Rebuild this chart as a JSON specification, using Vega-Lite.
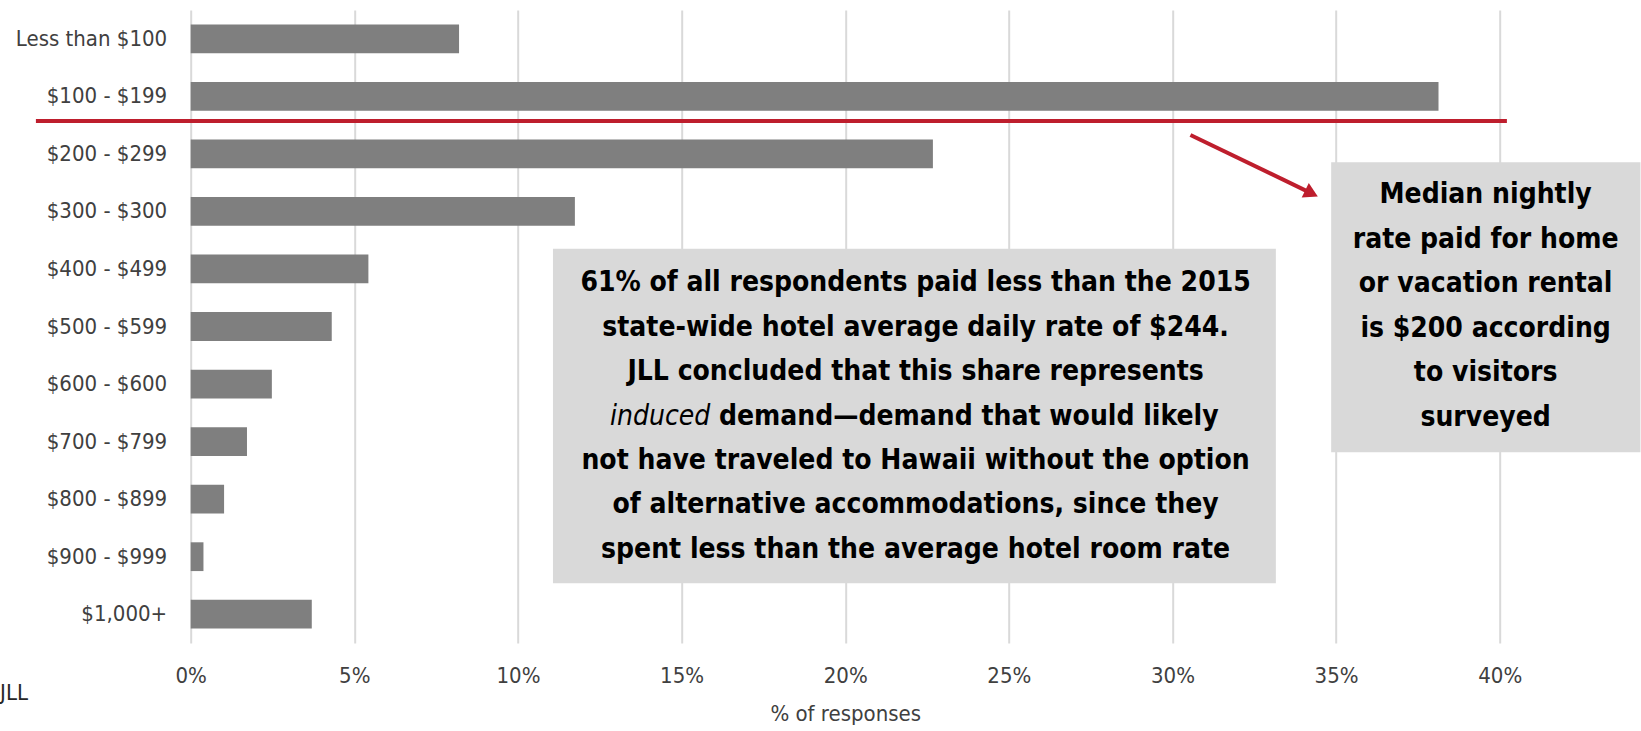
{
  "$schema": "https://vega.github.io/schema/vega-lite/v6.json",
  "width": 1309,
  "height": 633,
  "autosize": {"type": "none"},
  "padding": {"left": 190.7, "top": 10, "right": 141.3, "bottom": 88},
  "background": "white",
  "config": {"view": {"stroke": null}, "font": "DejaVu Sans Condensed"},
  "datasets": {
    "bars": [
      {"range": "Less than $100", "pct": 8.2},
      {"range": "$100 - $199", "pct": 38.13},
      {"range": "$200 - $299", "pct": 22.68},
      {"range": "$300 - $300", "pct": 11.74},
      {"range": "$400 - $499", "pct": 5.43},
      {"range": "$500 - $599", "pct": 4.31},
      {"range": "$600 - $600", "pct": 2.48},
      {"range": "$700 - $799", "pct": 1.72},
      {"range": "$800 - $899", "pct": 1.02},
      {"range": "$900 - $999", "pct": 0.39},
      {"range": "$1,000+", "pct": 3.7}
    ],
    "boxes": [
      {"x1": 11.07, "x2": 33.16, "y1": 4.151, "y2": 9.962},
      {"x1": 34.85, "x2": 44.3, "y1": 2.645, "y2": 7.686}
    ],
    "lines": [
      {"x": 22.15, "y": 4.747, "text": "61% of all respondents paid less than the 2015"},
      {"x": 22.15, "y": 5.52, "text": "state-wide hotel average daily rate of $244."},
      {"x": 22.15, "y": 6.292, "text": "JLL concluded that this share represents"},
      {"x": 22.15, "y": 7.837, "text": "not have traveled to Hawaii without the option"},
      {"x": 22.15, "y": 8.609, "text": "of alternative accommodations, since they"},
      {"x": 22.15, "y": 9.381, "text": "spent less than the average hotel room rate"},
      {"x": 39.57, "y": 3.214, "text": "Median nightly"},
      {"x": 39.57, "y": 3.989, "text": "rate paid for home"},
      {"x": 39.57, "y": 4.764, "text": "or vacation rental"},
      {"x": 39.57, "y": 5.539, "text": "is $200 according"},
      {"x": 39.57, "y": 6.314, "text": "to visitors"},
      {"x": 39.57, "y": 7.089, "text": "surveyed"}
    ],
    "italic": [{"x": 15.88, "y": 7.064, "text": "induced"}],
    "rest": [{"x": 16.14, "y": 7.064, "text": "demand\u2014demand that would likely"}],
    "redline": [{"x1": -4.73, "x2": 40.22, "y": 1.928}],
    "arrow": [{"x1": 30.55, "y1": 2.171, "x2": 34.25, "y2": 3.187}],
    "source": [{"x": -5.826, "y": 11.864, "text": "JLL"}]
  },
  "layer": [
    {
      "data": {"name": "bars"},
      "mark": {"type": "bar", "color": "#7F7F7F"},
      "encoding": {
        "y": {
          "field": "range", "type": "nominal", "sort": null,
          "scale": {"paddingInner": 0.5, "paddingOuter": 0.25},
          "axis": {
            "title": null, "ticks": false, "tickSize": 0, "domain": false, "grid": false,
            "labelFontSize": 22, "labelColor": "#404040", "labelPadding": 24,
            "labelFont": "DejaVu Sans Condensed"
          }
        },
        "x": {
          "field": "pct", "type": "quantitative",
          "scale": {"domain": [0, 40], "nice": false, "zero": true},
          "axis": {
            "values": [0, 5, 10, 15, 20, 25, 30, 35, 40],
            "labelExpr": "datum.value + '%'", "labelFlush": false,
            "grid": true, "gridColor": "#D9D9D9", "gridWidth": 2,
            "domain": false, "ticks": false, "tickSize": 0,
            "labelFontSize": 22, "labelColor": "#404040", "labelPadding": 22,
            "labelFont": "DejaVu Sans Condensed",
            "title": "% of responses", "titleFontSize": 22, "titleFontWeight": "normal",
            "titleColor": "#404040", "titlePadding": 17, "titleFont": "DejaVu Sans Condensed"
          }
        }
      }
    },
    {
      "layer": [
        {
          "data": {"name": "redline"},
          "mark": {"type": "rule", "color": "#BE1E2D", "strokeWidth": 4},
          "encoding": {
            "x": {"field": "x1", "type": "quantitative"},
            "x2": {"field": "x2"},
            "y": {"field": "y", "type": "quantitative", "scale": {"domain": [0, 11], "reverse": true, "nice": false, "zero": false}, "axis": null}
          }
        },
        {
          "data": {"name": "arrow"},
          "mark": {"type": "rule", "color": "#BE1E2D", "strokeWidth": 4},
          "encoding": {
            "x": {"field": "x1", "type": "quantitative"},
            "x2": {"field": "x2"},
            "y": {"field": "y1", "type": "quantitative", "scale": {"domain": [0, 11], "reverse": true, "nice": false, "zero": false}, "axis": null},
            "y2": {"field": "y2"}
          }
        },
        {
          "data": {"name": "arrow"},
          "mark": {"type": "point", "shape": "triangle-right", "filled": true, "color": "#BE1E2D", "size": 260, "angle": 26, "opacity": 1},
          "encoding": {
            "x": {"field": "x2", "type": "quantitative"},
            "y": {"field": "y2", "type": "quantitative", "scale": {"domain": [0, 11], "reverse": true, "nice": false, "zero": false}, "axis": null}
          }
        },
        {
          "data": {"name": "boxes"},
          "mark": {"type": "rect", "color": "#D9D9D9"},
          "encoding": {
            "x": {"field": "x1", "type": "quantitative"},
            "x2": {"field": "x2"},
            "y": {"field": "y1", "type": "quantitative", "scale": {"domain": [0, 11], "reverse": true, "nice": false, "zero": false}, "axis": null},
            "y2": {"field": "y2"}
          }
        },
        {
          "data": {"name": "lines"},
          "mark": {"type": "text", "align": "center", "baseline": "middle", "fontSize": 28, "fontWeight": "bold", "color": "#000000", "font": "DejaVu Sans Condensed"},
          "encoding": {
            "x": {"field": "x", "type": "quantitative"},
            "y": {"field": "y", "type": "quantitative", "scale": {"domain": [0, 11], "reverse": true, "nice": false, "zero": false}, "axis": null},
            "text": {"field": "text"}
          }
        },
        {
          "data": {"name": "italic"},
          "mark": {"type": "text", "align": "right", "baseline": "middle", "fontSize": 28, "fontWeight": "normal", "fontStyle": "italic", "color": "#000000", "font": "DejaVu Sans Condensed"},
          "encoding": {
            "x": {"field": "x", "type": "quantitative"},
            "y": {"field": "y", "type": "quantitative", "scale": {"domain": [0, 11], "reverse": true, "nice": false, "zero": false}, "axis": null},
            "text": {"field": "text"}
          }
        },
        {
          "data": {"name": "rest"},
          "mark": {"type": "text", "align": "left", "baseline": "middle", "fontSize": 28, "fontWeight": "bold", "color": "#000000", "font": "DejaVu Sans Condensed"},
          "encoding": {
            "x": {"field": "x", "type": "quantitative"},
            "y": {"field": "y", "type": "quantitative", "scale": {"domain": [0, 11], "reverse": true, "nice": false, "zero": false}, "axis": null},
            "text": {"field": "text"}
          }
        },
        {
          "data": {"name": "source"},
          "mark": {"type": "text", "align": "left", "baseline": "middle", "fontSize": 22, "color": "#262626", "font": "DejaVu Sans Condensed"},
          "encoding": {
            "x": {"field": "x", "type": "quantitative"},
            "y": {"field": "y", "type": "quantitative", "scale": {"domain": [0, 11], "reverse": true, "nice": false, "zero": false}, "axis": null},
            "text": {"field": "text"}
          }
        }
      ]
    }
  ],
  "resolve": {"scale": {"y": "independent"}}
}
